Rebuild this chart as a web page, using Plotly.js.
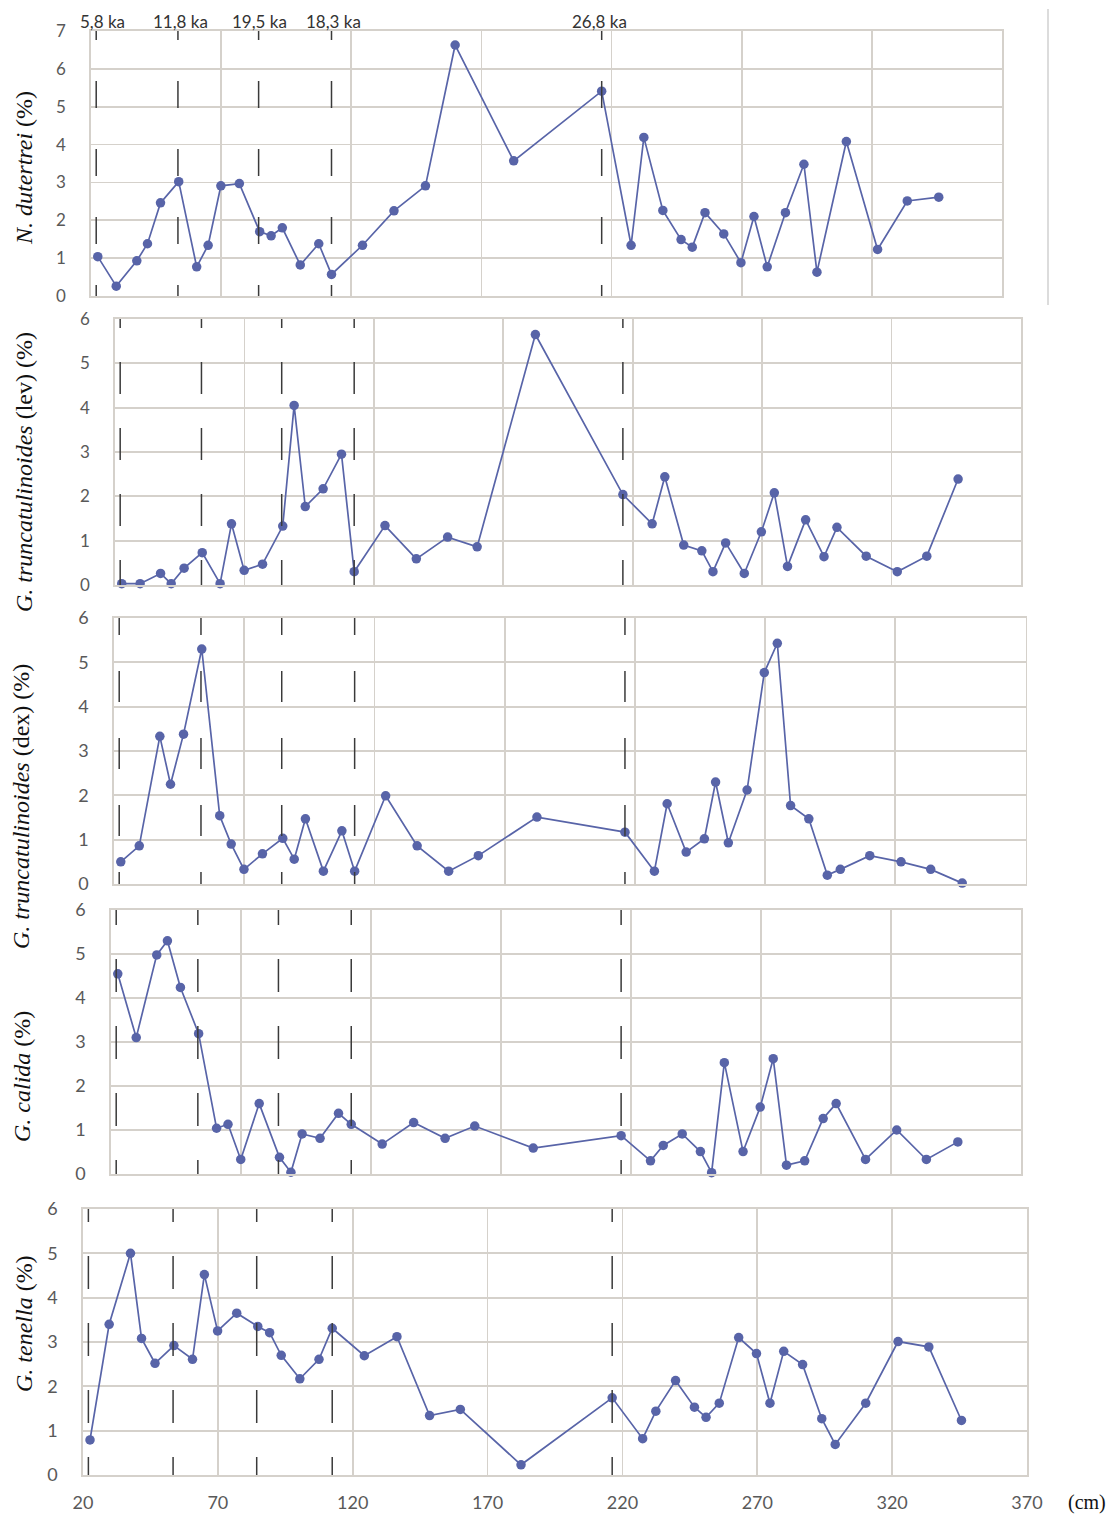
<!DOCTYPE html>
<html>
<head>
<meta charset="utf-8">
<script src="https://cdn.plot.ly/plotly-3.0.1.min.js"></script>
<style>html,body{margin:0;padding:0;background:#fff;}</style>
</head>
<body>
<div id="chart" style="width:1110px;height:1514px;"></div>
<script>
// ---------- data ----------
const depth = [22.6, 29.7, 37.6, 41.7, 46.7, 53.7, 60.6, 65.0, 69.9, 77.0, 84.8, 89.2, 93.5, 100.4, 107.5, 112.4, 124.3, 136.4, 148.5, 159.9, 182.4, 216.2, 227.5, 232.4, 239.7, 246.7, 251.0, 255.9, 263.1, 269.7, 274.7, 279.8, 286.8, 293.9, 298.9, 310.2, 322.2, 333.6, 345.7];

const nDutertrei = [1.04, 0.26, 0.93, 1.38, 2.46, 3.02, 0.77, 1.34, 2.91, 2.97, 1.70, 1.59, 1.80, 0.82, 1.38, 0.57, 1.34, 2.25, 2.91, 6.63, 3.57, 5.41, 1.34, 4.19, 2.26, 1.49, 1.29, 2.20, 1.64, 0.88, 2.10, 0.77, 2.20, 3.48, 0.63, 4.08, 1.23, 2.51, 2.61];
const gTruncLev = [0.03, 0.03, 0.26, 0.03, 0.38, 0.73, 0.03, 1.38, 0.33, 0.47, 1.33, 4.05, 1.77, 2.17, 2.95, 0.30, 1.34, 0.59, 1.08, 0.86, 5.65, 2.04, 1.38, 2.44, 0.90, 0.77, 0.30, 0.95, 0.26, 1.20, 2.08, 0.42, 1.47, 0.64, 1.30, 0.65, 0.30, 0.65, 2.39];
const gTruncDex = [0.50, 0.86, 3.33, 2.25, 3.38, 5.30, 1.54, 0.90, 0.33, 0.68, 1.03, 0.56, 1.47, 0.29, 1.20, 0.29, 1.99, 0.86, 0.29, 0.64, 1.51, 1.17, 0.29, 1.81, 0.72, 1.02, 2.30, 0.93, 2.12, 4.77, 5.43, 1.77, 1.47, 0.20, 0.33, 0.64, 0.50, 0.33, 0.02];
const gCalida = [4.55, 3.10, 4.98, 5.30, 4.24, 3.19, 1.04, 1.13, 0.33, 1.60, 0.38, 0.04, 0.91, 0.81, 1.38, 1.13, 0.68, 1.17, 0.81, 1.09, 0.59, 0.87, 0.30, 0.65, 0.91, 0.51, 0.03, 2.53, 0.51, 1.52, 2.62, 0.20, 0.30, 1.26, 1.60, 0.33, 1.00, 0.33, 0.73];
const gTenella = [0.79, 3.40, 5.00, 3.08, 2.52, 2.92, 2.61, 4.52, 3.25, 3.65, 3.35, 3.21, 2.70, 2.17, 2.61, 3.31, 2.69, 3.12, 1.34, 1.48, 0.23, 1.74, 0.82, 1.44, 2.13, 1.53, 1.30, 1.62, 3.10, 2.74, 1.62, 2.79, 2.49, 1.27, 0.69, 1.62, 3.01, 2.89, 1.23];

const boundaryDepth = [22, 53.4, 84.4, 112.4, 216.2];
const kaLabels = ['5,8 ka', '11,8 ka', '19,5 ka', '18,3 ka', '26,8 ka'];
const kaLabelDepth = [24.6, 54.2, 84.9, 113.2, 215.2];

const xTickVals = [20, 70, 120, 170, 220, 270, 320, 370];
const xTickText = ['20', '70', '120', '170', '220', '270', '320', '370'];
const xUnitLabel = '(cm)';

const yTitles = [
  '<i>N. dutertrei</i> (%)',
  '<i>G. truncatulinoides</i> (lev) (%)',
  '<i>G. truncatulinoides</i> (dex) (%)',
  '<i>G. calida</i> (%)',
  '<i>G. tenella</i> (%)'
];
const series = [nDutertrei, gTruncLev, gTruncDex, gCalida, gTenella];
const yMax = [7, 6, 6, 6, 6];

// ---------- geometry / style ----------
const W = 1110, H = 1514;
const panelBox = [
  {l: 91, r: 1002, t: 31, b: 296},
  {l: 115, r: 1021, t: 319, b: 585},
  {l: 114, r: 1025.5, t: 618, b: 884},
  {l: 111, r: 1021, t: 910, b: 1174},
  {l: 83, r: 1027, t: 1209, b: 1475}
];
const dashPat = ['27px,41px', '32px,34px', '31px,36px', '33px,34px', '33px,34px'];
const dashLead = [18, 23, 14, 18, 20];
const titlePos = [{x: 24, y: 168}, {x: 24, y: 472}, {x: 21, y: 807}, {x: 22, y: 1077}, {x: 24, y: 1324}];
const yTickSize = [17, 17, 18, 18, 18];

const px = p => p / W;
const py = p => 1 - p / H;

const lineColor = '#5864a8';
const gridColor = '#d5d1cb';
const tickColor = '#595959';

const data = [];
const layout = {
  width: W, height: H,
  margin: {l: 0, r: 0, t: 0, b: 0},
  paper_bgcolor: '#ffffff',
  plot_bgcolor: '#ffffff',
  showlegend: false,
  shapes: [],
  annotations: []
};

for (let i = 0; i < 5; i++) {
  const n = i + 1;
  const xa = 'xaxis' + (n === 1 ? '' : n);
  const ya = 'yaxis' + (n === 1 ? '' : n);
  const xr = 'x' + (n === 1 ? '' : n);
  const yr = 'y' + (n === 1 ? '' : n);
  const b = panelBox[i];

  data.push({
    type: 'scatter', mode: 'lines+markers',
    x: depth, y: series[i],
    xaxis: xr, yaxis: yr,
    line: {color: lineColor, width: 1.7},
    marker: {color: lineColor, size: 9.5},
    cliponaxis: false,
    hoverinfo: 'x+y'
  });

  layout[xa] = {
    domain: [px(b.l), px(b.r)],
    anchor: yr,
    range: [20, 370],
    tickmode: 'array', tickvals: xTickVals, ticktext: xTickText,
    showticklabels: i === 4,
    tickfont: {family: 'Lato, sans-serif', size: 18, color: tickColor},
    ticklabelstandoff: 11,
    ticks: '',
    showgrid: true, gridcolor: gridColor, gridwidth: 1.8,
    showline: true, mirror: true, linecolor: gridColor, linewidth: 1.8,
    zeroline: false, fixedrange: true
  };
  layout[ya] = {
    domain: [py(b.b), py(b.t)],
    anchor: xr,
    range: [0, yMax[i]],
    dtick: 1, tick0: 0,
    tickfont: {family: 'Lato, sans-serif', size: yTickSize[i], color: tickColor},
    ticklabelstandoff: 20,
    ticks: '',
    showgrid: true, gridcolor: gridColor, gridwidth: 1.8,
    showline: true, mirror: true, linecolor: gridColor, linewidth: 1.8,
    zeroline: false, fixedrange: true
  };

  // dashed age boundaries
  const unitPx = (b.b - b.t) / yMax[i];
  boundaryDepth.forEach(d => {
    layout.shapes.push({
      type: 'line', xref: xr, yref: yr,
      x0: d, x1: d,
      y0: yMax[i] + dashLead[i] / unitPx, y1: -1,
      line: {color: '#3a3a3a', width: 1.5, dash: dashPat[i]}
    });
  });

  // y titles
  layout.annotations.push({
    xref: 'paper', yref: 'paper',
    x: px(titlePos[i].x), y: py(titlePos[i].y),
    xanchor: 'center', yanchor: 'middle',
    text: yTitles[i], textangle: -90, showarrow: false,
    font: {family: '"Liberation Serif", "Times New Roman", serif', size: 24, color: '#111'}
  });
}

// ka labels on top panel
kaLabels.forEach((t, k) => {
  layout.annotations.push({
    xref: 'x', yref: 'paper',
    x: kaLabelDepth[k], y: py(21.5),
    xanchor: 'center', yanchor: 'middle',
    text: t, showarrow: false,
    font: {family: 'Lato, sans-serif', size: 17, color: '#333'}
  });
});

// unit label
layout.annotations.push({
  xref: 'paper', yref: 'paper',
  x: px(1087), y: py(1502),
  xanchor: 'center', yanchor: 'middle',
  text: xUnitLabel, showarrow: false,
  font: {family: '"Liberation Serif", "Times New Roman", serif', size: 20, color: '#111'}
});

// grey separator line right of top panel
layout.shapes.push({
  type: 'line', xref: 'paper', yref: 'paper',
  x0: px(1048), x1: px(1048), y0: py(9), y1: py(305),
  line: {color: '#d0d0d0', width: 1.5}
});

Plotly.newPlot('chart', data, layout, {staticPlot: true, displayModeBar: false});
</script>
</body>
</html>
